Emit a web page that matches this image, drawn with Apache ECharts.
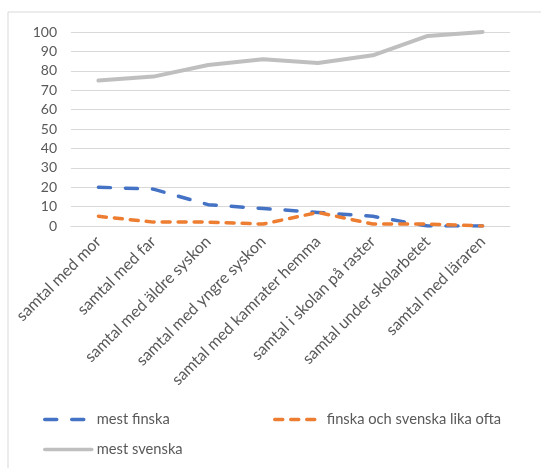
<!DOCTYPE html>
<html>
<head>
<meta charset="utf-8">
<script src="https://cdn.jsdelivr.net/npm/echarts@6/dist/echarts.min.js"></script>
<style>
  html, body { margin: 0; padding: 0; background: #fff; }
  #main { width: 541px; height: 468px; }
</style>
</head>
<body>
<div id="main"></div>
<script>
var categories = ['samtal med mor', 'samtal med far', 'samtal med äldre syskon', 'samtal med yngre syskon',
    'samtal med kamrater hemma', 'samtal i skolan på raster', 'samtal under skolarbetet', 'samtal med läraren'];
var mestFinska = [20, 19, 11, 9, 7, 5, 0, 0];
var likaOfta = [5, 2, 2, 1, 7, 1, 1, 0];
var mestSvenska = [75, 77, 83, 86, 84, 88, 98, 100];

var chart = echarts.init(document.getElementById('main'));
var font = 'Lato, "Open Sans", sans-serif';
var grey = '#595959';

function legendAt(name, left, top) {
    return {
        data: [name],
        left: left,
        top: top,
        itemWidth: 47,
        itemHeight: 12,
        itemGap: 4,
        itemStyle: { opacity: 0 },
        lineStyle: { width: 3.5 },
        textStyle: { color: grey, fontSize: 14.7, fontFamily: font }
    };
}

var option = {
    animation: false,
    graphic: [{
        type: 'rect',
        shape: { x: 8, y: 12, width: 540, height: 470 },
        style: { fill: 'none', stroke: '#d9d9d9', lineWidth: 1 }
    }],
    legend: [
        legendAt('mest finska', 38, 407),
        legendAt('finska och svenska lika ofta', 268, 407),
        legendAt('mest svenska', 38, 437)
    ],
    grid: { left: 71, right: 31, top: 32, bottom: 242 },
    xAxis: {
        type: 'category',
        data: categories,
        boundaryGap: true,
        axisTick: { show: false },
        axisLine: { lineStyle: { color: '#d9d9d9' } },
        axisLabel: {
            interval: 0,
            rotate: 45,
            margin: 13,
            color: grey,
            fontSize: 16,
            fontFamily: font
        }
    },
    yAxis: {
        type: 'value',
        min: 0,
        max: 100,
        interval: 10,
        axisLine: { show: false },
        axisTick: { show: false },
        splitLine: { lineStyle: { color: '#d9d9d9' } },
        axisLabel: { color: grey, fontSize: 14, margin: 14, fontFamily: font }
    },
    series: [
        {
            name: 'mest finska',
            type: 'line',
            data: mestFinska,
            symbol: 'none',
            lineStyle: { color: '#4472c4', width: 3.5, type: [12, 15], cap: 'round' },
            itemStyle: { color: '#4472c4' }
        },
        {
            name: 'finska och svenska lika ofta',
            type: 'line',
            data: likaOfta,
            symbol: 'none',
            lineStyle: { color: '#ed7d31', width: 3.5, type: [8, 8], cap: 'round' },
            itemStyle: { color: '#ed7d31' }
        },
        {
            name: 'mest svenska',
            type: 'line',
            data: mestSvenska,
            symbol: 'none',
            lineStyle: { color: '#bfbfbf', width: 4, cap: 'round' },
            itemStyle: { color: '#bfbfbf' }
        }
    ]
};
chart.setOption(option);
</script>
</body>
</html>
